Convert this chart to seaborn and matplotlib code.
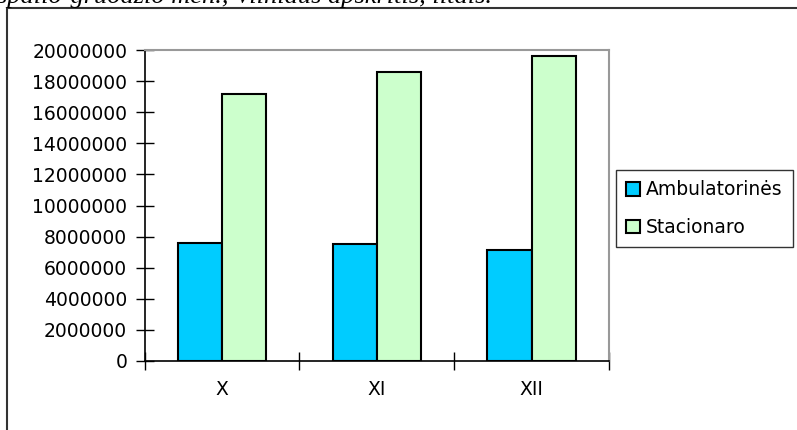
import matplotlib.pyplot as plt
import numpy as np
import pandas as pd
import seaborn as sns
from matplotlib.lines import Line2D

# monthly values (litais)
months = ['X', 'XI', 'XII']
ambulatorines = [7610000, 7500000, 7140000]
stacionaro = [17170000, 18560000, 19610000]
series_names = ['Ambulatorinės', 'Stacionaro']
y_ticks = list(range(0, 20000001, 2000000))

df = pd.DataFrame({
    'month': months * 2,
    'value': ambulatorines + stacionaro,
    'type': [series_names[0]] * 3 + [series_names[1]] * 3,
})

sns.set_style('white')
plt.rcParams['font.family'] = ['DejaVu Sans']
plt.rcParams['text.color'] = 'black'
plt.rcParams['xtick.color'] = 'black'
plt.rcParams['ytick.color'] = 'black'

W, H = 797, 430
fig = plt.figure(figsize=(W / 100, H / 100), dpi=100)
ax = fig.add_axes([144.5 / W, (H - 361) / H, (609 - 144.5) / W, (361 - 50) / H])

sns.barplot(data=df, x='month', y='value', hue='type', order=months,
            hue_order=series_names, palette=['#00CCFF', '#CCFFCC'], saturation=1,
            width=0.57, edgecolor='black', linewidth=1.5, ax=ax)

ax.set_xlim(-0.5, 2.5)
ax.set_ylim(0, 20000000)
ax.set_yticks(y_ticks)
ax.set_yticklabels([str(v) for v in y_ticks], fontsize=13.5)
ax.set_xticks(range(len(months)))
ax.set_xticklabels(months, fontsize=13.5)
ax.set_xticks(np.arange(-0.5, 2.6, 1.0), minor=True)
ax.tick_params(axis='y', left=True, direction='inout', length=13, width=1, color='black', pad=6)
ax.tick_params(axis='x', which='major', bottom=True, length=0, pad=14)
ax.tick_params(axis='x', which='minor', bottom=True, direction='inout', length=13, width=1, color='black')
ax.set_xlabel('')
ax.set_ylabel('')

for side in ['left', 'bottom']:
    ax.spines[side].set_color('black')
    ax.spines[side].set_linewidth(1.2)
for side in ['top', 'right']:
    ax.spines[side].set_color('#999999')
    ax.spines[side].set_linewidth(1.5)

ax.get_legend().remove()
leg = fig.legend(handles=ax.patches[0:1] + ax.patches[3:4], labels=series_names,
                 loc='upper left', bbox_to_anchor=(616 / W, 1 - 170 / H),
                 fontsize=13.5, frameon=True, fancybox=False, borderpad=0.55,
                 handlelength=0.75, handleheight=0.75, handletextpad=0.3,
                 labelspacing=1.0, borderaxespad=0)
leg.get_frame().set_edgecolor('black')
leg.get_frame().set_linewidth(1.0)

# outer chart frame, partly outside the picture
fig.add_artist(Line2D([7 / W, 7 / W, 1.0], [0.0, 1 - 8 / H, 1 - 8 / H],
                      transform=fig.transFigure, color='#333333', linewidth=1.5))

# caption line cut off at the top, as in the source
fig.text(-0.004, 1 - 3 / H, 'spalio-gruodžio mėn., Vilniaus apskritis, litais.',
         family='Liberation Serif', style='italic', fontsize=19, va='baseline', ha='left')

fig.savefig('out.png', dpi=100)
